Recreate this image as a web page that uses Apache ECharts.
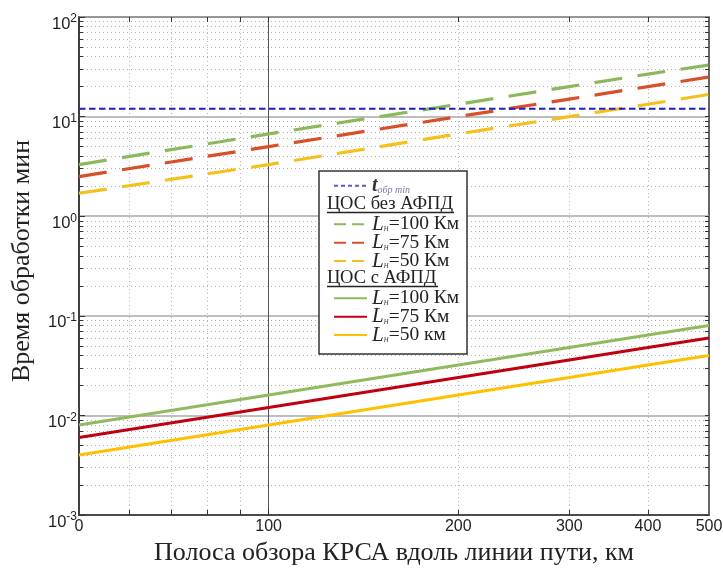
<!DOCTYPE html>
<html><head><meta charset="utf-8">
<script src="https://cdn.jsdelivr.net/npm/echarts@6/dist/echarts.min.js"></script>
<style>html,body{margin:0;padding:0;background:#fff}#c{width:723px;height:571px}</style>
</head><body><div id="c"></div>
<script>
// ---- data ----
const xValues = [50, 100, 200, 300, 400, 500];          // km (axis is logarithmic, first label shown as "0")
const xTickValues = [50, 100, 200, 300, 400, 500];
const xTickLabels = ['0', '100', '200', '300', '400', '500'];
const xMinorTicks = [60, 70, 80, 90, 200, 300, 400];
const xMajorLine = [100];
const yDecades = [-3, -2, -1, 0, 1, 2];                 // exponents of 10
const yMinorMultipliers = [2, 3, 4, 5, 6, 7, 8, 9];

const tMin        = [12, 12, 12, 12, 12, 12];
const noAfpd100   = [3.3, 6.7, 13.3, 20, 26.7, 33];
const noAfpd75    = [2.5, 5.0, 10, 15, 20, 25];
const noAfpd50    = [1.7, 3.3, 6.7, 10, 13.3, 16.7];
const withAfpd100 = [0.008, 0.016, 0.032, 0.048, 0.064, 0.08];
const withAfpd75  = [0.006, 0.012, 0.024, 0.036, 0.048, 0.06];
const withAfpd50  = [0.004, 0.008, 0.016, 0.024, 0.032, 0.04];

const legendHeaders = ['ЦОС без АФПД', 'ЦОС с АФПД'];
const xTitle = 'Полоса обзора КРСА вдоль линии пути, км';
const yTitle = 'Время обработки мин';

// ---- helpers ----
const L = Math.log10;
const toPts = arr => xValues.map((x, i) => [L(x), L(arr[i])]);
const yMinor = [];
yDecades.slice(0, -1).forEach(d => yMinorMultipliers.forEach(m => yMinor.push(L(m) + d)));
const yAll = yMinor.concat(yDecades);
const xMinorLog = xMinorTicks.map(L);
const xAllTicks = xMinorTicks.concat(xMajorLine).map(L);

const serif = 'Liberation Serif';
const sans = 'Liberation Sans';
const xMin = L(50), xMax = L(500);

const names = {
  t: 't обр min',
  n100: 'ЦОС без АФПД, Lн=100 Км', n75: 'ЦОС без АФПД, Lн=75 Км', n50: 'ЦОС без АФПД, Lн=50 Км',
  w100: 'ЦОС с АФПД, Lн=100 Км', w75: 'ЦОС с АФПД, Lн=75 Км', w50: 'ЦОС с АФПД, Lн=50 Км'
};
const legendText = {};
legendText[names.t] = '{t|t}{ts|обр min}';
legendText[names.n100] = '{i|L}{s|н}{n|=100 Км}';
legendText[names.n75] = '{i|L}{s|н}{n|=75 Км}';
legendText[names.n50] = '{i|L}{s|н}{n|=50 Км}';
legendText[names.w100] = '{i|L}{s|н}{n|=100 Км}';
legendText[names.w75] = '{i|L}{s|н}{n|=75 Км}';
legendText[names.w50] = '{i|L}{s|н}{n|=50 км}';

const LH = 18.4;
const legendRich = {
  i: {fontFamily: serif, fontStyle: 'italic', fontSize: 21, lineHeight: LH, color: '#222'},
  s: {fontFamily: serif, fontStyle: 'italic', fontSize: 10, lineHeight: 9, color: '#555', verticalAlign: 'bottom'},
  n: {fontFamily: serif, fontSize: 19.5, lineHeight: LH, color: '#222'},
  t: {fontFamily: serif, fontStyle: 'italic', fontWeight: 'bold', fontSize: 20, lineHeight: LH, color: '#333'},
  ts: {fontFamily: serif, fontStyle: 'italic', fontSize: 10, lineHeight: 9, color: '#7777aa', verticalAlign: 'bottom'}
};
function mkLegend(top, items) {
  return {
    show: true, orient: 'vertical', left: 333, top: top, padding: 0, itemGap: -2.6,
    itemWidth: 33, itemHeight: LH, z: 10, selectedMode: false,
    data: items,
    formatter: n => legendText[n],
    textStyle: {rich: legendRich}
  };
}
const hidden = {opacity: 0};

const option = {
  animation: false,
  backgroundColor: '#fff',
  grid: {left: 79, right: 14, top: 17, bottom: 56, show: true, borderColor: '#333', borderWidth: 1.5, backgroundColor: '#fff', outerBoundsMode: 'none', containLabel: false},
  xAxis: [
    {
      type: 'value', min: xMin, max: xMax, position: 'bottom',
      axisLine: {show: true, onZero: false, lineStyle: {color: '#333', width: 1.5}},
      axisTick: {show: true, inside: true, length: 5, customValues: xMinorLog, lineStyle: {color: '#333'}},
      splitLine: {show: true, lineStyle: {color: '#b0b0b0', width: 1, type: [1, 3]}},
      axisLabel: {
        customValues: xTickValues.map(L), margin: 4,
        fontFamily: sans, fontSize: 16, color: '#222',
        formatter: v => { const i = xTickValues.findIndex(t => Math.abs(L(t) - v) < 1e-6); return i >= 0 ? xTickLabels[i] : ''; }
      },
      name: xTitle, nameLocation: 'middle', nameGap: 25,
      nameTextStyle: {fontFamily: serif, fontSize: 26, color: '#222'}
    },
    {
      type: 'value', min: xMin, max: xMax, position: 'bottom',
      axisLine: {show: false, onZero: false}, axisLabel: {show: false},
      axisTick: {show: true, inside: true, length: 6, customValues: xMajorLine.map(L), lineStyle: {color: '#333'}},
      splitLine: {show: true, lineStyle: {color: '#555', width: 1}}
    },
    {
      type: 'value', min: xMin, max: xMax, position: 'top',
      axisLine: {show: false, onZero: false}, axisLabel: {show: false}, splitLine: {show: false},
      axisTick: {show: true, inside: true, length: 5, customValues: xAllTicks, lineStyle: {color: '#333'}}
    }
  ],
  yAxis: [
    {
      type: 'value', min: -3, max: 2, interval: 1, position: 'left',
      axisLine: {show: true, onZero: false, lineStyle: {color: '#333', width: 1.5}},
      axisTick: {show: true, inside: true, length: 6, lineStyle: {color: '#333'}},
      splitLine: {show: true, lineStyle: {color: '#a8a8a8', width: 1.5}},
      axisLabel: {
        margin: 2, padding: [14, 0, 0, 0],
        formatter: v => '{b|10}{s|' + Math.round(v) + '}',
        rich: {
          b: {fontFamily: sans, fontSize: 16.5, lineHeight: 22, color: '#222'},
          s: {fontFamily: sans, fontSize: 12, lineHeight: 12, color: '#222', verticalAlign: 'top'}
        }
      },
      name: yTitle, nameLocation: 'middle', nameGap: 44, nameRotate: 90,
      nameTextStyle: {fontFamily: serif, fontSize: 26, color: '#222', padding: [0, 0, 0, 10]}
    },
    {
      type: 'value', min: -3, max: 2, position: 'left',
      axisLine: {show: false, onZero: false}, axisLabel: {show: false},
      axisTick: {show: true, inside: true, length: 4, customValues: yMinor, lineStyle: {color: '#333'}},
      splitLine: {show: true, lineStyle: {color: '#b0b0b0', width: 1, type: [1, 3]}}
    },
    {
      type: 'value', min: -3, max: 2, position: 'right',
      axisLine: {show: false, onZero: false}, axisLabel: {show: false}, splitLine: {show: false},
      axisTick: {show: true, inside: true, length: 4, customValues: yAll, lineStyle: {color: '#333'}}
    }
  ],
  legend: [
    mkLegend(175.8, [{name: names.t, lineStyle: {width: 2, type: [4, 3], color: '#5a5ad0'}, itemStyle: hidden}]),
    mkLegend(213.8, [
      {name: names.n100, lineStyle: {width: 2, type: [12, 6]}, itemStyle: hidden},
      {name: names.n75, lineStyle: {width: 2, type: [12, 6]}, itemStyle: hidden},
      {name: names.n50, lineStyle: {width: 2, type: [12, 6]}, itemStyle: hidden}
    ]),
    mkLegend(287.8, [
      {name: names.w100, lineStyle: {width: 2}, itemStyle: hidden},
      {name: names.w75, lineStyle: {width: 2}, itemStyle: hidden},
      {name: names.w50, lineStyle: {width: 2}, itemStyle: hidden}
    ])
  ],
  graphic: [
    {type: 'rect', z: 5, shape: {x: 319, y: 171, width: 148, height: 183}, style: {fill: '#fff', stroke: '#333', lineWidth: 1.5}},
    {type: 'text', z: 6, x: 327, y: 204, style: {text: legendHeaders[0], fontFamily: serif, fontSize: 18.5, fill: '#222', verticalAlign: 'middle'}},
    {type: 'line', z: 6, shape: {x1: 327, y1: 212.5, x2: 454, y2: 212.5}, style: {stroke: '#222', lineWidth: 1.3}},
    {type: 'text', z: 6, x: 327, y: 278, style: {text: legendHeaders[1], fontFamily: serif, fontSize: 18.5, fill: '#222', verticalAlign: 'middle'}},
    {type: 'line', z: 6, shape: {x1: 327, y1: 286.5, x2: 438, y2: 286.5}, style: {stroke: '#222', lineWidth: 1.3}}
  ],
  series: [
    {name: names.n100, type: 'line', symbol: 'none', data: toPts(noAfpd100), lineStyle: {color: '#8cb85c', width: 3.2, type: [28, 15.5]}, itemStyle: {color: '#8cb85c'}},
    {name: names.n75, type: 'line', symbol: 'none', data: toPts(noAfpd75), lineStyle: {color: '#da4f2b', width: 3.2, type: [28, 15.5]}, itemStyle: {color: '#da4f2b'}},
    {name: names.n50, type: 'line', symbol: 'none', data: toPts(noAfpd50), lineStyle: {color: '#f6c01c', width: 3.2, type: [28, 15.5]}, itemStyle: {color: '#f6c01c'}},
    {name: names.w100, type: 'line', symbol: 'none', data: toPts(withAfpd100), lineStyle: {color: '#8fba5e', width: 3}, itemStyle: {color: '#8fba5e'}},
    {name: names.w75, type: 'line', symbol: 'none', data: toPts(withAfpd75), lineStyle: {color: '#c00010', width: 3}, itemStyle: {color: '#c00010'}},
    {name: names.w50, type: 'line', symbol: 'none', data: toPts(withAfpd50), lineStyle: {color: '#ffc000', width: 3}, itemStyle: {color: '#ffc000'}},
    {name: names.t, type: 'line', symbol: 'none', data: toPts(tMin), lineStyle: {color: '#1e1ec4', width: 2, type: [6.5, 3.5]}, itemStyle: {color: '#1e1ec4'}}
  ]
};
const chart = echarts.init(document.getElementById('c'), null, {renderer: 'canvas'});
chart.setOption(option);
</script></body></html>
